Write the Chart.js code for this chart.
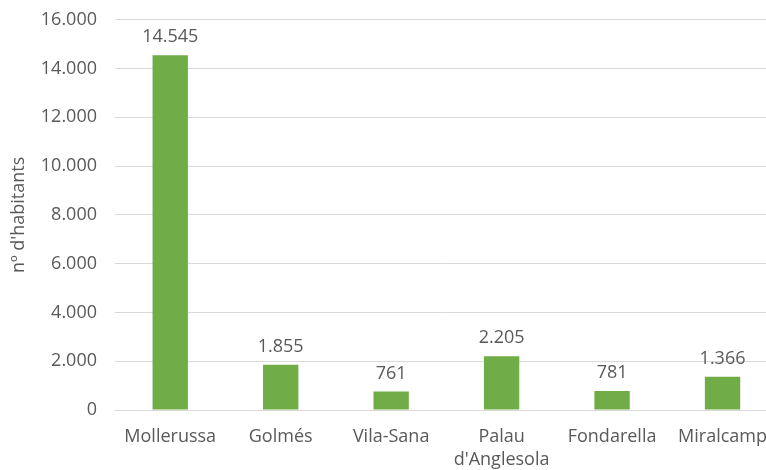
<!DOCTYPE html>
<html>
<head>
<meta charset="utf-8">
<script src="https://cdn.jsdelivr.net/npm/chart.js@4"></script>
<style>
  html, body { margin: 0; padding: 0; background: #fff; overflow: hidden; }
  body { width: 766px; height: 470px; }
  /* the original plot runs a little past the right and top edges */
  #wrap { width: 782px; height: 479px; margin-top: -9px; }
</style>
</head>
<body>
<div id="wrap"><canvas id="chart"></canvas></div>
<script>
const municipis = ['Mollerussa', 'Golmés', 'Vila-Sana', ['Palau', "d'Anglesola"], 'Fondarella', 'Miralcamp'];
const habitants = [14545, 1855, 761, 2205, 781, 1366];
const yTicks = [0, 2000, 4000, 6000, 8000, 10000, 12000, 14000, 16000];

const fmt = (v) => String(v).replace(/\B(?=(\d{3})+(?!\d))/g, '.');
const grey = '#595959';
const fontFamily = "'Open Sans', 'Liberation Sans', sans-serif";

// labels over the bars
const barLabels = {
    id: 'barLabels',
    afterDatasetsDraw(chart) {
        const ctx = chart.ctx;
        const meta = chart.getDatasetMeta(0);
        ctx.save();
        ctx.fillStyle = grey;
        ctx.font = '18px ' + fontFamily;
        ctx.textAlign = 'center';
        ctx.textBaseline = 'bottom';
        meta.data.forEach((bar, i) => {
            ctx.fillText(fmt(habitants[i]), bar.x, bar.y - 9);
        });
        ctx.restore();
    }
};

new Chart(document.getElementById('chart'), {
    type: 'bar',
    data: {
        labels: municipis,
        datasets: [{
            data: habitants,
            backgroundColor: '#70AD47',
            barPercentage: 0.32,
            categoryPercentage: 1,
        }]
    },
    options: {
        responsive: true,
        maintainAspectRatio: false,
        animation: false,
        layout: { padding: { top: 0, right: 0, bottom: 0, left: 8 } },
        plugins: {
            legend: { display: false },
            tooltip: { enabled: false },
        },
        scales: {
            x: {
                afterFit(axis) { axis.height = 60; },
                grid: { display: false, drawTicks: false },
                border: { color: '#d9d9d9' },
                ticks: { color: grey, font: { size: 18, family: fontFamily, lineHeight: 1.3 }, padding: 15, maxRotation: 0, autoSkip: false },
            },
            y: {
                min: 0,
                max: 16000,
                afterBuildTicks(axis) { axis.ticks = yTicks.map(v => ({ value: v })); },
                afterFit(axis) { axis.width = 107; },
                grid: { color: '#d9d9d9', drawTicks: false },
                border: { display: false },
                ticks: { color: grey, font: { size: 18, family: fontFamily }, padding: 18, callback: (v) => fmt(v) },
                title: { display: true, text: "nº d'habitants", color: grey, font: { size: 18, family: fontFamily }, padding: 0 },
            },
        },
    },
    plugins: [barLabels],
});
</script>
</body>
</html>
